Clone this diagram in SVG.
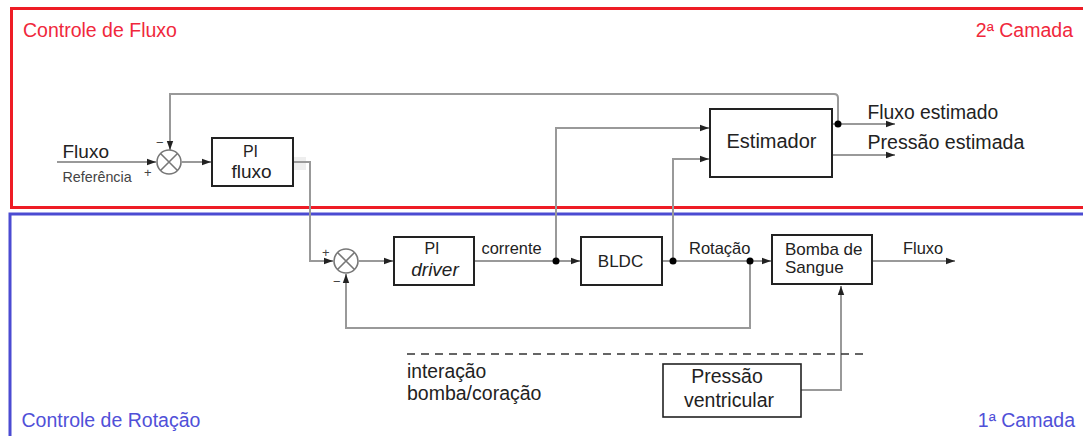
<svg xmlns="http://www.w3.org/2000/svg" width="1083" height="436" viewBox="0 0 1083 436">
<defs>
<marker id="ah" markerUnits="userSpaceOnUse" markerWidth="10" markerHeight="8" refX="9" refY="4" orient="auto">
<path d="M0,0.8 L9,4 L0,7.2 z" fill="#222"/>
</marker>
<style>
.t{font-family:"Liberation Sans",Arial,sans-serif;fill:#222}
.blk{fill:#fff;stroke:#222;stroke-width:2}
.c{fill:none;stroke:#999;stroke-width:2}
.a{marker-end:url(#ah)}
.sum{fill:#fff;stroke:#777;stroke-width:1.6}
.dot{fill:#000}
.red{fill:#f0283c}
.blue{fill:#5050d8}
</style>
</defs>
<rect width="1083" height="436" fill="#fff"/>
<g id="layers">
<rect x="11.5" y="8.5" width="1090" height="199" fill="none" stroke="#ee1c25" stroke-width="3"/>
<rect x="10" y="214" width="1090" height="240" fill="none" stroke="#4b4bd2" stroke-width="3"/>
<text class="t red" x="23" y="37" font-size="19.5">Controle de Fluxo</text>
<text class="t red" x="1073" y="37" font-size="19.5" text-anchor="end">2ª Camada</text>
<text class="t blue" x="21.5" y="427" font-size="19.5">Controle de Rotação</text>
<text class="t blue" x="1075" y="427" font-size="19.5" text-anchor="end">1ª Camada</text>
</g>
<g id="connectors">
<path class="c a" d="M57,162 H156"/>
<path class="c a" d="M838,124 V98 Q838,94 834,94 H170 V150"/>
<path class="c a" d="M182,162 H211"/>
<rect x="294" y="157" width="12" height="13" fill="#eee"/>
<path class="c a" d="M293,162 H310 V261 H333"/>
<path class="c a" d="M359,261 H393"/>
<path class="c a" d="M474,261 H580"/>
<path class="c a" d="M662,261 H771"/>
<path class="c a" d="M872,261 H955"/>
<path class="c a" d="M556,261 V128 H709"/>
<path class="c a" d="M673,261 V159 H709"/>
<path class="c a" d="M832,124 H895"/>
<path class="c a" d="M832,155 H895"/>
<path class="c a" d="M750,261 V328 H346 V274"/>
<path class="c a" d="M801,390 H841 V286"/>
<path d="M407,354 H863" fill="none" stroke="#333" stroke-width="1.6" stroke-dasharray="8,6"/>
<circle class="dot" cx="556" cy="261" r="3.5"/>
<circle class="dot" cx="673" cy="261" r="3.5"/>
<circle class="dot" cx="750" cy="261" r="3.5"/>
<circle class="dot" cx="838" cy="124" r="3.5"/>
</g>
<g id="sum1">
<circle class="sum" cx="169" cy="162" r="12"/>
<path d="M160.5,153.5 L177.5,170.5 M177.5,153.5 L160.5,170.5" stroke="#777" stroke-width="1.6"/>
<text class="t" x="156" y="147" font-size="13" style="fill:#444">−</text>
<text class="t" x="144" y="177" font-size="13" style="fill:#444">+</text>
</g>
<g id="sum2">
<circle class="sum" cx="346" cy="261" r="12"/>
<path d="M337.5,252.5 L354.5,269.5 M354.5,252.5 L337.5,269.5" stroke="#777" stroke-width="1.6"/>
<text class="t" x="322" y="257" font-size="13" style="fill:#444">+</text>
<text class="t" x="333" y="286" font-size="13" style="fill:#444">−</text>
</g>
<g id="input-label">
<text class="t" x="62.5" y="158" font-size="19">Fluxo</text>
<text class="t" x="62.5" y="182" font-size="14.3" style="fill:#444">Referência</text>
</g>
<g id="pi-fluxo">
<rect class="blk" x="212" y="138" width="81" height="48"/>
<text class="t" x="250.5" y="156.5" font-size="16" text-anchor="middle">PI</text>
<text class="t" x="251.5" y="177.5" font-size="19" text-anchor="middle">fluxo</text>
</g>
<g id="pi-driver">
<rect class="blk" x="394" y="237" width="80" height="48"/>
<text class="t" x="432" y="254" font-size="16" text-anchor="middle">PI</text>
<text class="t" x="435" y="276" font-size="19" text-anchor="middle" font-style="italic">driver</text>
</g>
<g id="bldc">
<rect class="blk" x="581" y="237" width="81" height="48"/>
<text class="t" x="620.5" y="267" font-size="17" text-anchor="middle">BLDC</text>
</g>
<g id="bomba">
<rect class="blk" x="772" y="235" width="100" height="49"/>
<text class="t" x="785" y="255" font-size="17">Bomba de</text>
<text class="t" x="785" y="273" font-size="17">Sangue</text>
</g>
<g id="estimador">
<rect class="blk" x="710" y="109" width="122" height="68"/>
<text class="t" x="771.5" y="148" font-size="20" text-anchor="middle">Estimador</text>
</g>
<g id="pressao">
<rect x="663" y="364" width="138" height="53" fill="#fff" stroke="#222" stroke-width="1.6"/>
<text class="t" x="727" y="382.5" font-size="19.5" text-anchor="middle">Pressão</text>
<text class="t" x="729" y="406.5" font-size="19.5" text-anchor="middle">ventricular</text>
</g>
<g id="labels">
<text class="t" x="481.5" y="254" font-size="16.4">corrente</text>
<text class="t" x="689" y="254" font-size="16.5">Rotação</text>
<text class="t" x="903" y="254" font-size="16.4">Fluxo</text>
<text class="t" x="867.5" y="119" font-size="19.3">Fluxo estimado</text>
<text class="t" x="867.5" y="148.5" font-size="19.6">Pressão estimada</text>
<text class="t" x="407" y="378" font-size="19.3">interação</text>
<text class="t" x="407" y="400" font-size="19.5">bomba/coração</text>
</g>
</svg>
